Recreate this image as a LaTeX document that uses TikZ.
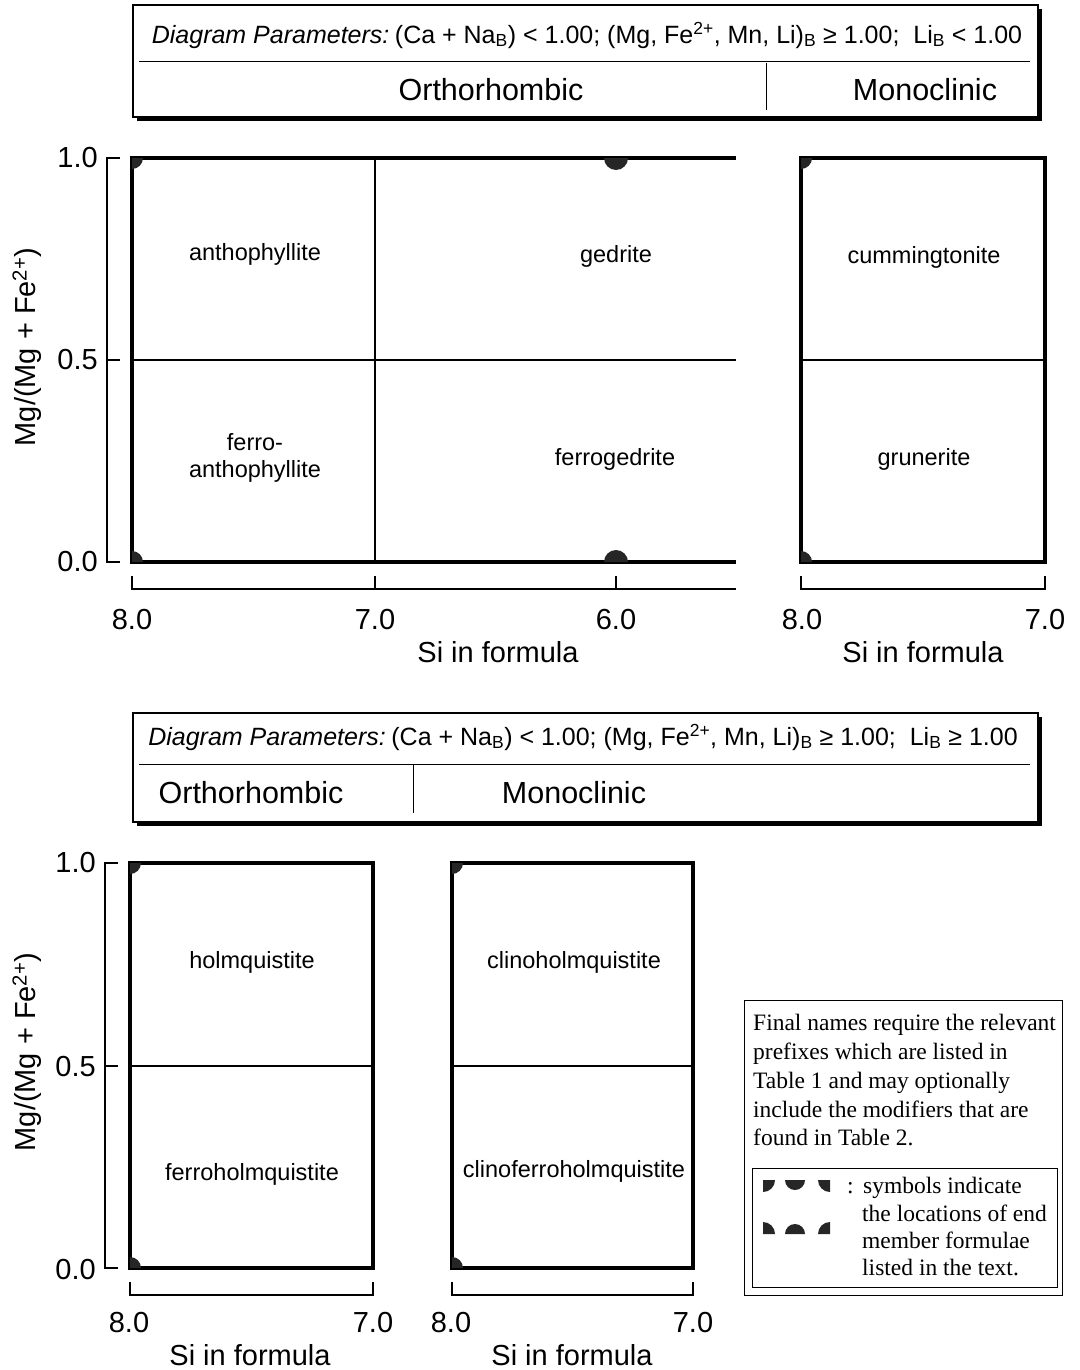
\documentclass[tikz,border=0pt]{standalone}
\usepackage{fontspec}
\setmainfont{Liberation Sans}
\newfontfamily\tms{Liberation Serif}
\newcommand\fsz[2]{\fontsize{#1}{#2}\selectfont}
\begin{document}
\begin{tikzpicture}[x=1pt,y=-1pt,
  frame/.style={line width=3.6pt,line join=miter},
  divline/.style={line width=2.8pt},
  brk/.style={line width=1.8pt},
  mk/.style={fill=black!85},
  hdr/.style={line width=1.3pt,fill=white},
  shad/.style={fill=black},
  param/.style={inner sep=0pt,font=\fsz{25}{29}},
  cls/.style={inner sep=0pt,font=\fsz{30.5}{35}},
  fld/.style={inner sep=0pt,font=\fsz{23.5}{27},align=center},
  tick/.style={inner sep=0pt,font=\fsz{29}{34}},
  ytitle/.style={inner sep=0pt,font=\fsz{29}{33},rotate=90},
  leg/.style={inner sep=0pt,anchor=base west,font=\tms\fsz{23.5}{29}},
  legbox/.style={line width=1pt}
]
\useasboundingbox (0,0) rectangle (1079,1370);

% ---------------- top header ----------------
\fill[shad] (137,9) rectangle (1042,121);
\draw[hdr] (133,5) rectangle (1038,117);
\draw[line width=1pt] (139,62) -- (1030,62);
\draw[line width=1pt] (766,63) -- (766,110);
\node[param] (p1) at (587,35) {\textit{Diagram Parameters:}\hspace{-0.15em} (Ca + Na\textsubscript{B}) < 1.00; (Mg, Fe\textsuperscript{2+}, Mn, Li)\textsubscript{B} ≥ 1.00;\ \ Li\textsubscript{B} < 1.00};
\node[cls] (o1) at (491,90) {Orthorhombic};
\node[cls] (m1) at (925,90) {Monoclinic};

% ---------------- top-left plot ----------------
\draw[frame] (736,158) -- (132,158) -- (132,562) -- (736,562);
\draw[divline] (375,158) -- (375,562);
\draw[divline] (132,360) -- (736,360);
\fill[mk] (132,158) -- ++(11pt,0) arc[start angle=0,end angle=-90,radius=11pt] -- cycle;
\fill[mk] (132,562) -- ++(11pt,0) arc[start angle=0,end angle=90,radius=11pt] -- cycle;
\fill[mk] (604,158) arc[start angle=180,end angle=360,radius=12pt] -- cycle;
\fill[mk] (604,562) arc[start angle=180,end angle=0,radius=12pt] -- cycle;
\node[fld] (antho) at (255,254) {anthophyllite};
\node[fld] (ged) at (616,256) {gedrite};
\node[fld] (fantho) at (255,458) {ferro-\\anthophyllite};
\node[fld] (fged) at (615,459) {ferrogedrite};
% y axis
\draw[brk] (120,158) -- (107,158) -- (107,562) -- (120,562);
\draw[brk] (107,360) -- (120,360);
\node[tick,anchor=east] (y1a) at (98,158) {1.0};
\node[tick,anchor=east] (y5a) at (98,360) {0.5};
\node[tick,anchor=east] (y0a) at (98,562) {0.0};
\node[ytitle] (yta) at (27,347) {Mg/(Mg + Fe\textsuperscript{2+})};
% x axis
\draw[brk] (132,576) -- (132,589) -- (736,589);
\draw[brk] (375,576) -- (375,589);
\draw[brk] (616,576) -- (616,589);
\node[tick] (x8a) at (132,620) {8.0};
\node[tick] (x7a) at (375,620) {7.0};
\node[tick] (x6a) at (616,620) {6.0};
\node[tick] (sia) at (498,652) {Si in formula};

% ---------------- top-right plot ----------------
\draw[frame] (801,158) rectangle (1045,562);
\draw[divline] (801,360) -- (1045,360);
\fill[mk] (801,158) -- ++(11pt,0) arc[start angle=0,end angle=-90,radius=11pt] -- cycle;
\fill[mk] (801,562) -- ++(11pt,0) arc[start angle=0,end angle=90,radius=11pt] -- cycle;
\node[fld] (cum) at (924,257) {cummingtonite};
\node[fld] (gru) at (924,459) {grunerite};
\draw[brk] (801,576) -- (801,589) -- (1045,589) -- (1045,576);
\node[tick] (x8b) at (802,620) {8.0};
\node[tick] (x7b) at (1045,620) {7.0};
\node[tick] (sib) at (923,652) {Si in formula};

% ---------------- bottom header ----------------
\fill[shad] (137,717) rectangle (1042,826);
\draw[hdr] (133,713) rectangle (1038,822);
\draw[line width=1pt] (139,764) -- (1030,764);
\draw[line width=1pt] (413,765) -- (413,813);
\node[param] (p2) at (583,737) {\textit{Diagram Parameters:}\hspace{-0.15em} (Ca + Na\textsubscript{B}) < 1.00; (Mg, Fe\textsuperscript{2+}, Mn, Li)\textsubscript{B} ≥ 1.00;\ \ Li\textsubscript{B} ≥ 1.00};
\node[cls] (o2) at (251,793) {Orthorhombic};
\node[cls] (m2) at (574,793) {Monoclinic};

% ---------------- bottom-left plot ----------------
\draw[frame] (130,863) rectangle (373,1268);
\draw[divline] (130,1066) -- (373,1066);
\fill[mk] (130,863) -- ++(11pt,0) arc[start angle=0,end angle=-90,radius=11pt] -- cycle;
\fill[mk] (130,1268) -- ++(11pt,0) arc[start angle=0,end angle=90,radius=11pt] -- cycle;
\node[fld] (hol) at (252,962) {holmquistite};
\node[fld] (fhol) at (252,1174) {ferroholmquistite};
\draw[brk] (118,863) -- (105,863) -- (105,1268) -- (118,1268);
\draw[brk] (105,1066) -- (118,1066);
\node[tick,anchor=east] (y1c) at (96,863) {1.0};
\node[tick,anchor=east] (y5c) at (96,1067) {0.5};
\node[tick,anchor=east] (y0c) at (96,1270) {0.0};
\node[ytitle] (ytc) at (27,1052) {Mg/(Mg + Fe\textsuperscript{2+})};
\draw[brk] (130,1282) -- (130,1295) -- (373,1295) -- (373,1282);
\node[tick] (x8c) at (129,1323) {8.0};
\node[tick] (x7c) at (373,1323) {7.0};
\node[tick] (sic) at (250,1355) {Si in formula};

% ---------------- bottom-right plot ----------------
\draw[frame] (452,863) rectangle (693,1268);
\draw[divline] (452,1066) -- (693,1066);
\fill[mk] (452,863) -- ++(11pt,0) arc[start angle=0,end angle=-90,radius=11pt] -- cycle;
\fill[mk] (452,1268) -- ++(11pt,0) arc[start angle=0,end angle=90,radius=11pt] -- cycle;
\node[fld] (chol) at (574,962) {clinoholmquistite};
\node[fld] (cfhol) at (574,1171) {clinoferroholmquistite};
\draw[brk] (452,1282) -- (452,1295) -- (693,1295) -- (693,1282);
\node[tick] (x8d) at (451,1323) {8.0};
\node[tick] (x7d) at (693,1323) {7.0};
\node[tick] (sid) at (572,1355) {Si in formula};

% ---------------- legend ----------------
\draw[legbox] (744,1000) rectangle (1062,1295);
\draw[legbox] (752,1168) rectangle (1057,1287);
\node[leg] (l1) at (753,1030) {Final names require the relevant};
\node[leg] (l2) at (753,1059) {prefixes which are listed in};
\node[leg] (l3) at (753,1088) {Table 1 and may optionally};
\node[leg] (l4) at (753,1117) {include the modifiers that are};
\node[leg] (l5) at (753,1145) {found in Table 2.};
\node[leg] (c1) at (847,1193) {:};
\node[leg] (s1) at (863,1193) {symbols indicate};
\node[leg] (s2) at (862,1221) {the locations of end};
\node[leg] (s3) at (862,1248) {member formulae};
\node[leg] (s4) at (862,1275) {listed in the text.};
\fill[mk] (763,1180) -- ++(12pt,0) arc[start angle=0,end angle=-90,radius=12pt] -- cycle;
\fill[mk] (785,1180) arc[start angle=180,end angle=360,radius=10pt] -- cycle;
\fill[mk] (830,1180) -- ++(-12pt,0) arc[start angle=180,end angle=270,radius=12pt] -- cycle;
\fill[mk] (763,1234) -- ++(12pt,0) arc[start angle=0,end angle=90,radius=12pt] -- cycle;
\fill[mk] (785,1234) arc[start angle=180,end angle=0,radius=10pt] -- cycle;
\fill[mk] (830,1234) -- ++(-12pt,0) arc[start angle=180,end angle=90,radius=12pt] -- cycle;
\end{tikzpicture}
\end{document}
